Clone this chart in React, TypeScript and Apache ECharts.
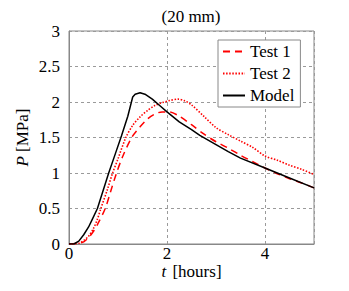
import React, { useEffect, useRef } from "react";
import * as echarts from "echarts";

const tModel = [0, 0.1, 0.2, 0.3, 0.4, 0.47, 0.58, 0.7, 0.81, 0.95, 1.07, 1.2, 1.3, 1.35, 1.45, 1.55, 1.7, 1.85, 2.0, 2.25, 2.5, 2.67, 3.0, 3.25, 3.5, 4.0, 4.5, 5.0];
const pModel = [0, 0, 0.04, 0.13, 0.24, 0.34, 0.5, 0.76, 1.0, 1.28, 1.52, 1.8, 2.07, 2.11, 2.13, 2.11, 2.04, 1.95, 1.86, 1.72, 1.61, 1.53, 1.4, 1.3, 1.21, 1.07, 0.93, 0.79];

const tTest1 = [0, 0.2, 0.3, 0.4, 0.5, 0.6, 0.74, 0.85, 0.97, 1.1, 1.28, 1.45, 1.6, 1.75, 1.9, 2.05, 2.25, 2.5, 2.75, 3.0, 3.25, 3.5, 3.75, 4.0, 4.25, 4.5, 4.75, 5.0];
const pTest1 = [0, 0.01, 0.03, 0.09, 0.18, 0.3, 0.5, 0.74, 1.0, 1.24, 1.5, 1.65, 1.76, 1.83, 1.86, 1.86, 1.8, 1.68, 1.55, 1.44, 1.35, 1.25, 1.16, 1.07, 0.99, 0.92, 0.86, 0.79];

const tTest2 = [0, 0.2, 0.3, 0.4, 0.5, 0.58, 0.65, 0.78, 0.89, 1.0, 1.16, 1.3, 1.45, 1.6, 1.75, 1.9, 2.05, 2.23, 2.35, 2.5, 2.75, 3.0, 3.25, 3.5, 3.75, 4.0, 4.25, 4.5, 4.75, 5.0];
const pTest2 = [0, 0.01, 0.05, 0.11, 0.22, 0.35, 0.5, 0.76, 1.0, 1.2, 1.5, 1.67, 1.79, 1.88, 1.95, 1.99, 2.02, 2.04, 2.02, 1.96, 1.8, 1.64, 1.54, 1.45, 1.36, 1.24, 1.18, 1.11, 1.05, 0.98];

const seriesNames = ["Test 1", "Test 2", "Model"];
const chartTitle = "(20 mm)";

const FONT = "'Liberation Serif', serif";
const FS = 17;

function pairs(t: number[], p: number[]) {
  return t.map((v, i) => [v, p[i]]);
}

export default function App() {
  const ref = useRef<HTMLDivElement>(null);
  useEffect(() => {
    if (!ref.current) return;
    const chart = echarts.init(ref.current, undefined, { renderer: "svg" });
    const gridColor = "#9a9a9a";
    chart.setOption({
      animation: false,
      backgroundColor: "#fff",
      textStyle: { fontFamily: FONT },
      grid: { left: 69, right: 35, top: 31, bottom: 47, show: true, borderColor: "#888", borderWidth: 1 },
      graphic: [
        {
          type: "text",
          x: 191,
          y: 16,
          style: { text: chartTitle, font: `${FS}px ${FONT}`, fill: "#000", align: "center", verticalAlign: "middle" },
        },
      ],
      legend: {
        orient: "vertical",
        left: 218,
        top: 40,
        padding: [3, 6, 3, 4],
        itemWidth: 22,
        itemHeight: 14,
        itemGap: 5,
        borderColor: "#888",
        borderWidth: 1,
        backgroundColor: "#fff",
        itemStyle: { opacity: 0 },
        textStyle: { fontFamily: FONT, fontSize: FS, color: "#000" },
        data: seriesNames,
      },
      xAxis: {
        type: "value",
        min: 0,
        max: 5,
        interval: 2,
        name: "{i|t} [hours]",
        nameLocation: "middle",
        nameGap: 21.5,
        nameMoveOverlap: false,
        nameTextStyle: {
          fontFamily: FONT,
          fontSize: FS,
          color: "#000",
          lineHeight: 11,
          rich: { i: { fontFamily: FONT, fontSize: FS, fontStyle: "italic", color: "#000", lineHeight: 11, padding: [0, 2, 0, 0] } },
        },
        axisLine: { show: true, lineStyle: { color: "#888" } },
        axisTick: { show: false },
        axisLabel: { fontFamily: FONT, fontSize: FS, color: "#000", margin: 4, lineHeight: 11, showMaxLabel: false },
        splitLine: { show: true, lineStyle: { color: gridColor, type: [3, 3], width: 1 } },
      },
      yAxis: {
        type: "value",
        min: 0,
        max: 3,
        interval: 0.5,
        name: "{i|P} [MPa]",
        nameLocation: "middle",
        nameGap: 38,
        nameMoveOverlap: false,
        nameTextStyle: { fontFamily: FONT, fontSize: FS, color: "#000", rich: { i: { fontFamily: FONT, fontSize: FS, fontStyle: "italic", color: "#000" } } },
        axisLine: { show: true, lineStyle: { color: "#888" } },
        axisTick: { show: false },
        axisLabel: { fontFamily: FONT, fontSize: FS, color: "#000", margin: 9 },
        splitLine: { show: true, lineStyle: { color: gridColor, type: [3, 3], width: 1 } },
      },
      series: [
        {
          name: seriesNames[0],
          type: "line",
          data: pairs(tTest1, pTest1),
          symbol: "none",
          smooth: 0.3,
          color: "#ff0000",
          lineStyle: { color: "#ff0000", width: 1.5, type: [7, 5] },
          z: 3,
        },
        {
          name: seriesNames[1],
          type: "line",
          data: pairs(tTest2, pTest2),
          symbol: "none",
          smooth: 0.3,
          color: "#ff0000",
          lineStyle: { color: "#ff0000", width: 1.6, type: [1.5, 1.6] },
          z: 3,
        },
        {
          name: seriesNames[2],
          type: "line",
          data: pairs(tModel, pModel),
          symbol: "none",
          smooth: false,
          color: "#000",
          lineStyle: { color: "#000", width: 1.5 },
          z: 4,
        },
      ],
    });
    return () => chart.dispose();
  }, []);
  return <div ref={ref} style={{ position: "fixed", left: 0, top: 0, width: 349, height: 291 }} />;
}
